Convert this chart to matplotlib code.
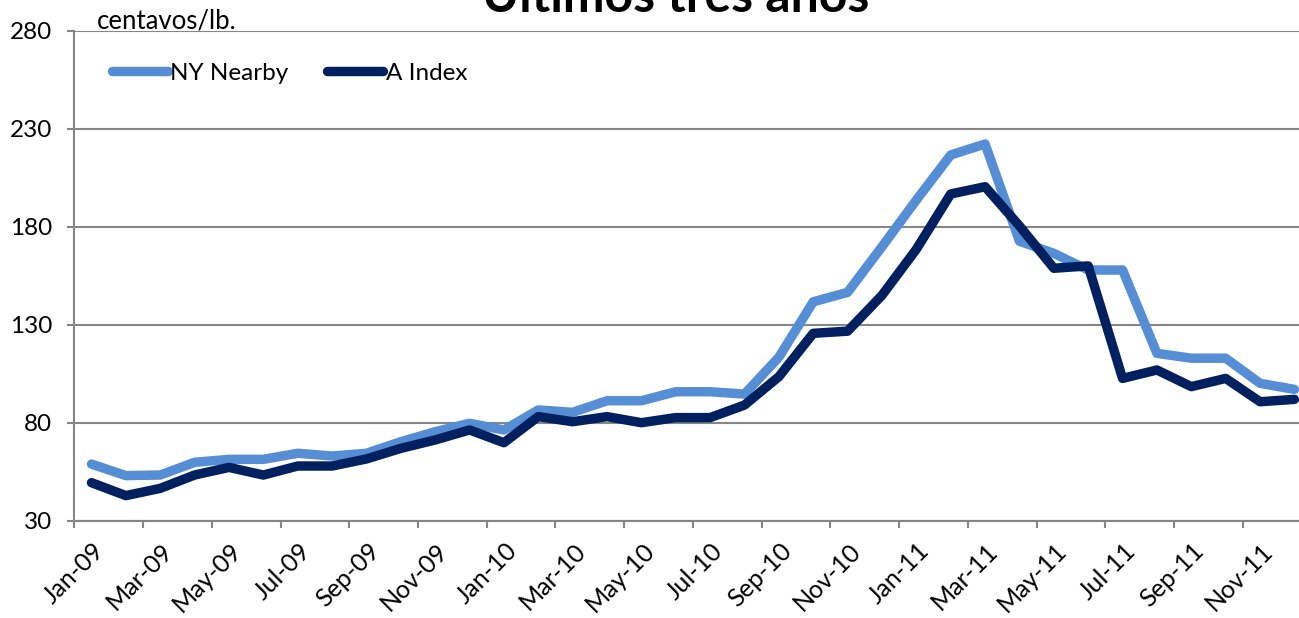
import matplotlib
matplotlib.use("Agg")
import matplotlib.pyplot as plt
from matplotlib.transforms import ScaledTranslation

plt.rcParams['font.family'] = ['Lato', 'DejaVu Sans']

months = ["Jan", "Feb", "Mar", "Apr", "May", "Jun", "Jul", "Aug", "Sep", "Oct", "Nov", "Dec"]
years = ["09", "10", "11"]
categories = [f"{m}-{y}" for y in years for m in months]

ny_nearby = [58.9, 53.0, 53.3, 59.8, 61.3, 61.3, 64.4, 63.0, 64.4, 70.3, 75.4, 79.7,
             76.3, 86.5, 85.3, 91.2, 91.2, 95.8, 95.8, 94.6, 113.4, 141.7, 146.5, 169.8,
             193.6, 216.6, 222.2, 172.6, 166.4, 157.9, 157.9, 115.4, 112.9, 112.9, 100.1, 97.0]
a_index = [49.4, 42.8, 46.5, 53.3, 57.2, 53.3, 57.9, 57.9, 61.5, 66.9, 71.2, 76.3,
           69.8, 83.1, 80.5, 83.1, 80.0, 82.6, 82.6, 89.0, 103.5, 125.6, 126.7, 145.0,
           168.5, 196.7, 200.4, 180.4, 158.8, 160.0, 102.6, 106.9, 98.4, 102.6, 90.7, 91.9]

yticks = [30, 80, 130, 180, 230, 280]
title = "Últimos tres años"
unit = "centavos/lb."

W, H = 1299, 618
fig = plt.figure(figsize=(W / 100, H / 100), dpi=100)
left_px, right_px, top_px, bot_px = 74.3, 1311.6, 30.7, 520.7
ax = fig.add_axes([left_px / W, 1 - bot_px / H, (right_px - left_px) / W, (bot_px - top_px) / H])

grid_c = "#868686"
fs = 17.5
x = list(range(len(categories)))
ax.plot(x, ny_nearby, color="#558ED5", lw=6.8, solid_capstyle="round",
        solid_joinstyle="round", label="NY Nearby", zorder=3)
ax.plot(x, a_index, color="#002060", lw=6.8, solid_capstyle="round",
        solid_joinstyle="round", label="A Index", zorder=4)

ax.set_xlim(-0.5, len(categories) - 0.5)
ax.set_ylim(30, 280)
ax.set_yticks(yticks)
ax.set_yticklabels([str(v) for v in yticks])
ax.yaxis.grid(True, color=grid_c, lw=1.5)
ax.set_axisbelow(True)

for s in ["top", "right"]:
    ax.spines[s].set_visible(False)
for s in ["left", "bottom"]:
    ax.spines[s].set_color(grid_c)
    ax.spines[s].set_linewidth(1.5)

# major ticks at category boundaries, every 2 categories
ax.set_xticks([i - 0.5 for i in range(0, len(categories), 2)])
ax.set_xticklabels([])
ax.set_xticks(list(range(0, len(categories), 2)), minor=True)
ax.set_xticklabels([categories[i] for i in range(0, len(categories), 2)], minor=True,
                   rotation=45, ha="right", va="center", rotation_mode="anchor")
ax.tick_params(axis="x", which="major", length=5, width=1.5, color=grid_c, direction="out")
ax.tick_params(axis="x", which="minor", length=0, pad=16, labelsize=18)
ax.tick_params(axis="y", length=5, width=1.5, color=grid_c, direction="out", pad=11, labelsize=fs)
offset = ScaledTranslation(9 / 100, -4 / 100, fig.dpi_scale_trans)
for lbl in ax.get_xticklabels(minor=True):
    lbl.set_transform(lbl.get_transform() + offset)

leg = ax.legend(loc="center left", bbox_to_anchor=((112 - left_px) / (right_px - left_px),
                (bot_px - 73) / (bot_px - top_px)), ncol=2, frameon=False, fontsize=fs,
                handlelength=2.3, handletextpad=0.1, columnspacing=1.6,
                borderpad=0, borderaxespad=0)

fig.text(97 / W, 1 - 29 / H, unit, fontsize=18.5, ha="left", va="baseline")
fig.text(676 / W, 1 - 12 / H, title, fontsize=36, fontweight="bold", ha="center", va="baseline")

fig.savefig("out.png", dpi=100)
